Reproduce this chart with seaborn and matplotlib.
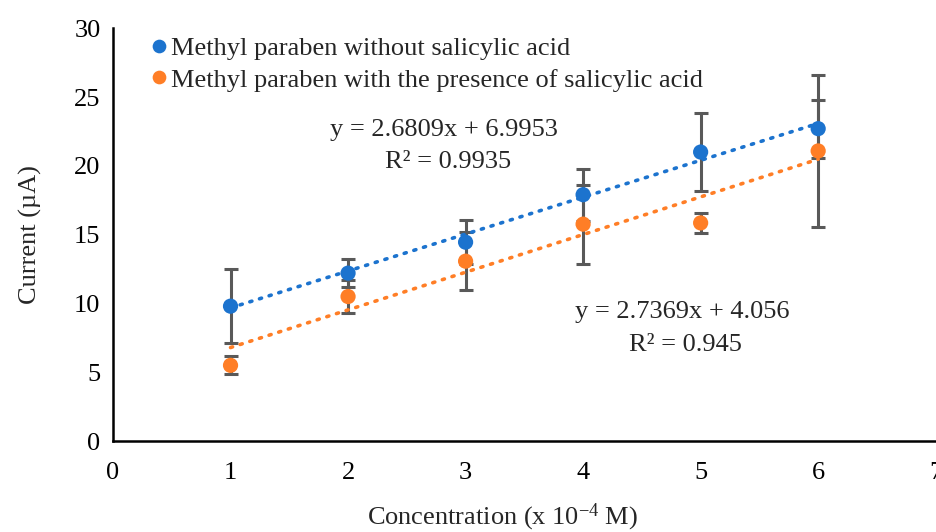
import numpy as np
import pandas as pd
import matplotlib
matplotlib.use("Agg")
import matplotlib.pyplot as plt
import seaborn as sns

# ---- data ----
conc = [1, 2, 3, 4, 5, 6]
without_sa = [9.8, 12.2, 14.45, 17.9, 21.0, 22.7]
without_sa_err = [2.7, 1.0, 1.6, 1.9, 2.85, 2.1]
with_sa = [5.5, 10.5, 13.07, 15.76, 15.85, 21.08]
with_sa_err = [0.65, 1.2, 2.1, 2.86, 0.75, 5.5]
series_names = ["Methyl paraben without salicylic acid",
                "Methyl paraben with the presence of salicylic acid"]
fit_slope = [2.6809, 2.7369]
fit_intercept = [6.9953, 4.056]
fit_r2 = ["0.9935", "0.945"]
x_ticks = [0, 1, 2, 3, 4, 5, 6, 7]
y_ticks = [0, 5, 10, 15, 20, 25, 30]

colors = ["#1C73CE", "#FF7E26"]
err_color = "#595959"
FS = 19

sns.set_theme(style="white")
plt.rcParams['font.family'] = ['Liberation Serif', 'DejaVu Serif']
plt.rcParams['mathtext.fontset'] = 'custom'
plt.rcParams['mathtext.rm'] = 'Liberation Serif'
plt.rcParams['mathtext.it'] = 'Liberation Serif:italic'

df = pd.DataFrame({
    "conc": conc * 2,
    "current": without_sa + with_sa,
    "err": without_sa_err + with_sa_err,
    "series": [series_names[0]] * len(conc) + [series_names[1]] * len(conc),
})

fig = plt.figure(figsize=(9.37, 5.32), dpi=100)
ax = fig.add_axes([0.1206, 0.171, 0.878, 0.776])

# error bars
for name in series_names:
    sub = df[df.series == name]
    ax.errorbar(sub.conc, sub.current, yerr=sub.err, fmt="none",
                ecolor=err_color, elinewidth=2.2, capsize=4.7, capthick=2.2,
                zorder=2)

# trend lines
xs = np.array([conc[0], conc[-1]], dtype=float)
for i in range(2):
    ax.plot(xs, fit_slope[i] * xs + fit_intercept[i], color=colors[i],
            linestyle=(0, (0.6, 2.2)), linewidth=2.6, dash_capstyle="round",
            zorder=2.5)

sns.scatterplot(data=df, x="conc", y="current", hue="series",
                palette=colors, s=120, edgecolor="none", ax=ax, zorder=3,
                legend=True)

# equations
ax.text(2.82, 22.6, f"y = {fit_slope[0]}x + {fit_intercept[0]}", ha="center",
        va="center", fontsize=FS)
ax.text(2.85, 20.3, f"R² = {fit_r2[0]}", ha="center", va="center", fontsize=FS)
ax.text(4.84, 9.37, f"y = {fit_slope[1]}x + {fit_intercept[1]}", ha="center",
        va="center", fontsize=FS)
ax.text(4.87, 6.97, f"R² = {fit_r2[1]}", ha="center", va="center", fontsize=FS)

ax.set_xlim(0, 7)
ax.set_ylim(0, 30)
ax.set_xticks(x_ticks)
ax.set_yticks(y_ticks)
ax.tick_params(axis="both", direction="out", length=5, width=1.5,
               labelsize=FS, colors="black", pad=4)
ax.tick_params(axis="x", pad=10)
for s in ["top", "right"]:
    ax.spines[s].set_visible(False)
for s in ["left", "bottom"]:
    ax.spines[s].set_color("black")
    ax.spines[s].set_linewidth(1.8)

ax.set_xlabel("Concentration (x 10$^{-4}$ M)", fontsize=FS)
ax.set_ylabel("Current (µA)", fontsize=FS)
ax.xaxis.set_label_coords((503 - 113) / 823, -0.148)
ax.yaxis.set_label_coords(-0.086, 0.5)

leg = ax.legend(loc="upper left", bbox_to_anchor=(0.027, 1.005), frameon=False,
                fontsize=FS, handletextpad=-0.05, labelspacing=0.3,
                borderaxespad=0.0, handlelength=1.0, markerscale=0.9)

fig.savefig("out.png", dpi=100)
